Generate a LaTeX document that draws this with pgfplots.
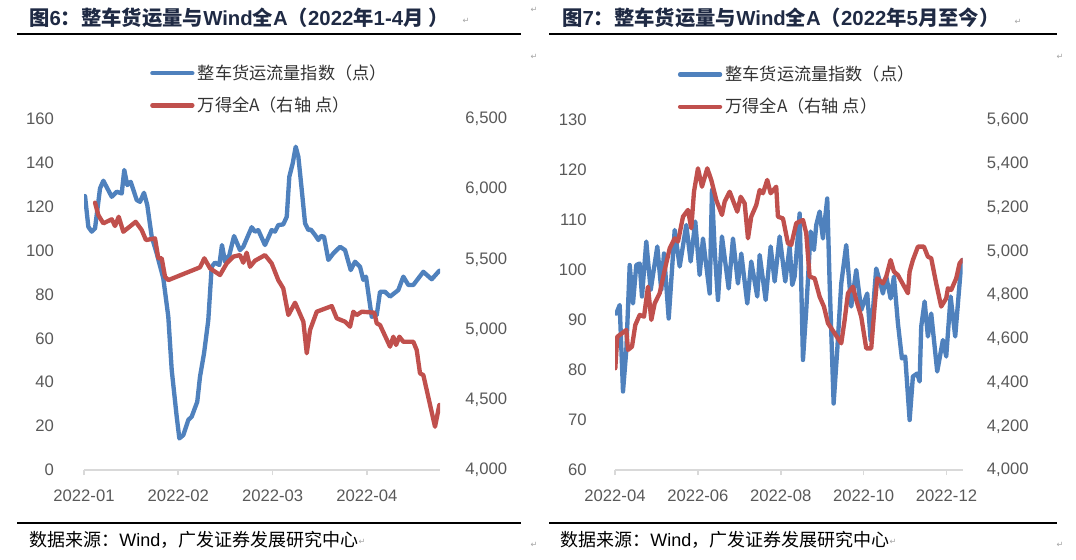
\documentclass[border=0pt]{standalone}
\usepackage{fontspec}
\setmainfont{Liberation Sans}
\newfontfamily\cjk{Noto Sans CJK SC}
\newfontfamily\sym{DejaVu Sans}
\usepackage{pgfplots}
\pgfplotsset{compat=1.18}

\definecolor{xlblue}{HTML}{4F81BD}
\definecolor{xlred}{HTML}{C0504D}
\definecolor{tickgray}{HTML}{595959}
\definecolor{axgray}{HTML}{D9D9D9}
\definecolor{navy}{HTML}{1F2A44}
\definecolor{legtext}{HTML}{333333}
\definecolor{pmark}{HTML}{A6A6A6}

\pgfplotsset{
  panel/.style={
    scale only axis,
    /pgf/number format/assume math mode=true,
    scaled y ticks=false,
    tick label style={font=\fontsize{10}{12}\selectfont, text=tickgray},
    tick align=outside,
    major tick length=3pt,
  },
  leftax/.style={
    panel,
    axis x line*=bottom, axis y line*=left,
    y axis line style={draw=none}, ytick style={draw=none},
    x axis line style={draw=axgray, line width=1.2pt},
    xtick style={draw=axgray, line width=1pt},
    xticklabel style={yshift=-5.5pt},
  },
  rightax/.style={
    panel,
    hide x axis,
    axis y line*=right,
    y axis line style={draw=none}, ytick style={draw=none},
    /pgf/number format/fixed,
    /pgf/number format/1000 sep={,},
    legend cell align=left,
    legend image code/.code={\draw[##1] (0pt,0pt) -- (24pt,0pt);},
    legend style={draw=none, fill=none, anchor=north west,
      font=\cjk\fontsize{10.3}{12}\selectfont, text=legtext,
      row sep=5pt, inner sep=0pt},
  },
  ser/.style={line width=2.6pt, line join=round, line cap=round},
}

\begin{document}
\begin{tikzpicture}[x=0.6pt, y=-0.6pt]
\path[use as bounding box] (0,0) rectangle (1076,559);

% ---------- titles, rules, source ----------
\node[anchor=west, inner sep=0pt, text=navy, font=\fontsize{12.2}{14}\selectfont\bfseries]
  at (29,18) {{\cjk 图}6{\cjk ：整车货运量与}Wind{\cjk 全}A{\cjk （}2022{\cjk 年}1-4{\cjk 月 ）}};
\node[anchor=west, inner sep=0pt, text=navy, font=\fontsize{12.2}{14}\selectfont\bfseries]
  at (562,18) {{\cjk 图}7{\cjk ：整车货运量与}Wind{\cjk 全}A{\cjk （}2022{\cjk 年}5{\cjk 月至今）}};
\draw[line width=0.9pt] (17,34) -- (521,34);
\draw[line width=0.9pt] (549,34) -- (1057,34);
\draw[line width=0.9pt] (17,523) -- (521,523);
\draw[line width=0.9pt] (549,523) -- (1057,523);
\node[anchor=west, inner sep=0pt, font=\fontsize{10.8}{12}\selectfont]
  at (29,540) {{\cjk 数据来源：}Wind{\cjk ，广发证券发展研究中心}};
\node[anchor=west, inner sep=0pt, font=\fontsize{10.8}{12}\selectfont]
  at (560,540) {{\cjk 数据来源：}Wind{\cjk ，广发证券发展研究中心}};
\foreach \mx/\my in {466/21, 534/10, 534/57, 362/542, 534/545, 1018/22, 1060/57, 893/542, 1060/545}
  \node[text=pmark, font=\sym\fontsize{5}{6}\selectfont, inner sep=0pt] at (\mx,\my) {↵};

% ---------- left panel: Jan-Apr 2022 ----------
\begin{axis}[leftax, at={(50.4pt,-282pt)}, anchor=south west,
  width=213.6pt, height=210.7pt,
  xmin=0, xmax=3.775, ymin=0, ymax=160, ytick={0,20,...,160},
  yticklabel style={xshift=-11.5pt},
  xtick={0,1,2,3}, xticklabels={2022-01,2022-02,2022-03,2022-04}]
\addplot[xlblue, ser] coordinates {
(0.011,124.8)(0.046,110.8)(0.082,108.6)(0.117,110.1)(0.170,128.3)(0.205,131.8)
(0.294,124.5)(0.347,126.8)(0.400,126.0)(0.427,136.7)(0.459,129.8)(0.495,131.3)
(0.559,123.0)(0.594,122.2)(0.636,126.3)(0.671,120.7)(0.718,106.3)(0.771,98.7)
(0.841,87.3)(0.894,69.8)(0.930,45.6)(0.983,24.3)(1.011,14.4)(1.053,15.9)
(1.106,22.8)(1.142,24.3)(1.201,31.1)(1.230,42.5)(1.273,53.2)(1.318,68.3)
(1.354,92.6)(1.389,94.5)(1.435,93.4)(1.463,102.5)(1.495,94.9)(1.541,97.9)
(1.591,106.6)(1.654,100.2)(1.689,101.7)(1.778,110.6)(1.813,108.6)(1.848,109.3)
(1.919,102.5)(1.990,109.3)(2.025,108.6)(2.060,111.6)(2.113,111.9)(2.150,115.4)
(2.177,133.6)(2.213,139.7)(2.245,147.3)(2.273,142.7)(2.309,127.6)(2.344,112.4)
(2.379,109.3)(2.404,109.6)(2.450,107.1)(2.485,104.8)(2.513,106.6)(2.545,106.3)
(2.591,95.7)(2.644,98.7)(2.715,101.7)(2.768,100.2)(2.828,91.1)(2.874,94.9)
(2.927,92.6)(2.962,86.6)(2.990,88.1)(3.051,69.8)(3.104,70.6)(3.139,81.2)
(3.192,81.2)(3.245,79.0)(3.333,82.0)(3.386,88.1)(3.439,84.3)(3.492,84.3)
(3.598,90.3)(3.687,86.9)(3.768,90.8)
};
\end{axis}
\begin{axis}[rightax, at={(50.4pt,-282pt)}, anchor=south west,
  width=213.6pt, height=210.7pt,
  xmin=0, xmax=3.775, ymin=4000, ymax=6500, ytick={4000,4500,...,6500},
  yticklabel style={xshift=8.7pt},
  legend style={at={(0.185,1.165)}}]
\addlegendimage{xlblue, ser}
\addlegendentry{整车货运流量指数（点）}
\addplot[xlred, ser] coordinates {
(0.117,5903)(0.152,5815)(0.205,5756)(0.294,5785)(0.329,5737)(0.368,5803)
(0.417,5696)(0.548,5767)(0.612,5708)(0.657,5637)(0.753,5649)(0.788,5507)
(0.824,5507)(0.859,5376)(0.894,5352)(1.230,5443)(1.276,5507)(1.336,5436)
(1.442,5388)(1.513,5471)(1.583,5519)(1.654,5530)(1.689,5476)(1.725,5547)
(1.760,5447)(1.813,5490)(1.919,5530)(1.990,5471)(2.060,5352)(2.113,5293)
(2.167,5103)(2.238,5191)(2.326,5056)(2.362,4831)(2.397,4997)(2.468,5127)
(2.627,5167)(2.680,5080)(2.768,5056)(2.821,5020)(2.856,5127)(2.892,5103)
(2.945,5127)(3.078,5120)(3.104,5044)(3.139,5032)(3.245,4878)(3.280,4949)
(3.309,4890)(3.344,4949)(3.386,4913)(3.492,4913)(3.528,4854)(3.563,4688)
(3.598,4676)(3.722,4308)(3.768,4463)
};
\addlegendentry{万得全A（右轴 点）}
\end{axis}

% ---------- right panel: May 2022 onwards ----------
\begin{axis}[leftax, at={(369pt,-282pt)}, anchor=south west,
  width=208.6pt, height=210pt,
  xmin=0, xmax=8.39, ymin=60, ymax=130, ytick={60,70,...,130},
  yticklabel style={xshift=-10.5pt},
  xtick={0,2,4,6,8}, xticklabels={2022-04,2022-06,2022-08,2022-10,2022-12}]
\addplot[xlblue, ser] coordinates {
(0.031,91.3)(0.113,93.0)(0.193,75.7)(0.273,84.0)(0.355,101.0)(0.434,93.3)
(0.514,101.0)(0.596,101.3)(0.651,94.7)(0.755,105.7)(0.861,96.0)(1.021,104.7)
(1.117,96.0)(1.182,103.3)(1.296,90.3)(1.440,108.0)(1.561,100.7)(1.720,109.0)
(1.826,101.7)(1.937,109.7)(2.043,99.0)(2.123,106.3)(2.285,95.3)(2.340,116.0)
(2.405,104.0)(2.485,94.0)(2.581,106.7)(2.743,96.3)(2.847,106.3)(2.967,97.3)
(3.047,103.3)(3.192,93.3)(3.288,101.7)(3.433,94.7)(3.491,103.0)(3.636,94.0)
(3.756,104.7)(3.853,97.7)(3.973,106.7)(4.109,97.7)(4.215,104.7)(4.277,97.0)
(4.335,98.7)(4.456,111.3)(4.536,82.0)(4.615,92.0)(4.721,107.7)(4.801,104.0)
(4.857,109.0)(4.939,111.7)(5.018,106.3)(5.122,114.3)(5.180,97.3)(5.276,73.3)
(5.363,84.0)(5.460,97.3)(5.580,105.0)(5.701,92.7)(5.822,100.0)(5.942,92.0)
(6.087,95.3)(6.169,86.0)(6.304,100.3)(6.425,96.7)(6.466,95.3)(6.545,98.7)
(6.651,94.3)(6.731,98.7)(6.828,89.3)(6.924,82.3)(7.004,82.7)(7.110,70.0)
(7.189,78.7)(7.293,79.3)(7.351,77.7)(7.390,88.7)(7.472,93.7)(7.551,86.7)
(7.631,91.3)(7.776,79.7)(7.913,86.0)(7.993,82.7)(8.099,94.7)(8.210,86.7)
(8.355,101.3)(8.380,102.0)
};
\end{axis}
\begin{axis}[rightax, at={(369pt,-282pt)}, anchor=south west,
  width=208.6pt, height=210pt,
  xmin=0, xmax=8.39, ymin=4000, ymax=5600, ytick={4000,4200,...,5600},
  yticklabel style={xshift=8pt},
  legend style={at={(0.18,1.165)}}]
\addlegendimage{xlblue, ser}
\addlegendentry{整车货运流量指数（点）}
\addplot[xlred, ser] coordinates {
(0.007,4465)(0.055,4609)(0.273,4640)(0.314,4549)(0.410,4564)(0.490,4663)
(0.596,4709)(0.700,4701)(0.796,4838)(0.876,4686)(0.958,4762)(1.078,4808)
(1.199,4914)(1.320,5013)(1.440,5059)(1.520,5044)(1.641,5158)(1.761,5189)
(1.841,5105)(1.906,5272)(2.002,5379)(2.099,5295)(2.227,5379)(2.323,5326)
(2.444,5234)(2.581,5166)(2.647,5227)(2.767,5272)(2.951,5181)(3.033,5249)
(3.129,5219)(3.209,5059)(3.288,5158)(3.409,5211)(3.491,5280)(3.571,5265)
(3.674,5326)(3.756,5265)(3.891,5295)(3.932,5158)(4.053,5150)(4.174,5036)
(4.253,5029)(4.374,5128)(4.536,5143)(4.615,5082)(4.697,4884)(4.818,4876)
(4.939,4792)(5.042,4747)(5.139,4671)(5.300,4625)(5.460,4579)(5.542,4686)
(5.622,4808)(5.742,4838)(5.822,4777)(5.942,4701)(6.063,4556)(6.183,4556)
(6.265,4747)(6.328,4876)(6.466,4853)(6.545,4884)(6.651,4960)(6.731,4907)
(6.828,4891)(7.069,4808)(7.110,4907)(7.189,4960)(7.310,5021)(7.455,5021)
(7.551,4975)(7.631,4968)(7.751,4853)(7.872,4747)(7.993,4785)(8.034,4831)
(8.113,4823)(8.234,4876)(8.316,4945)(8.380,4960)
};
\addlegendentry{万得全A（右轴 点）}
\end{axis}
\end{tikzpicture}
\end{document}
